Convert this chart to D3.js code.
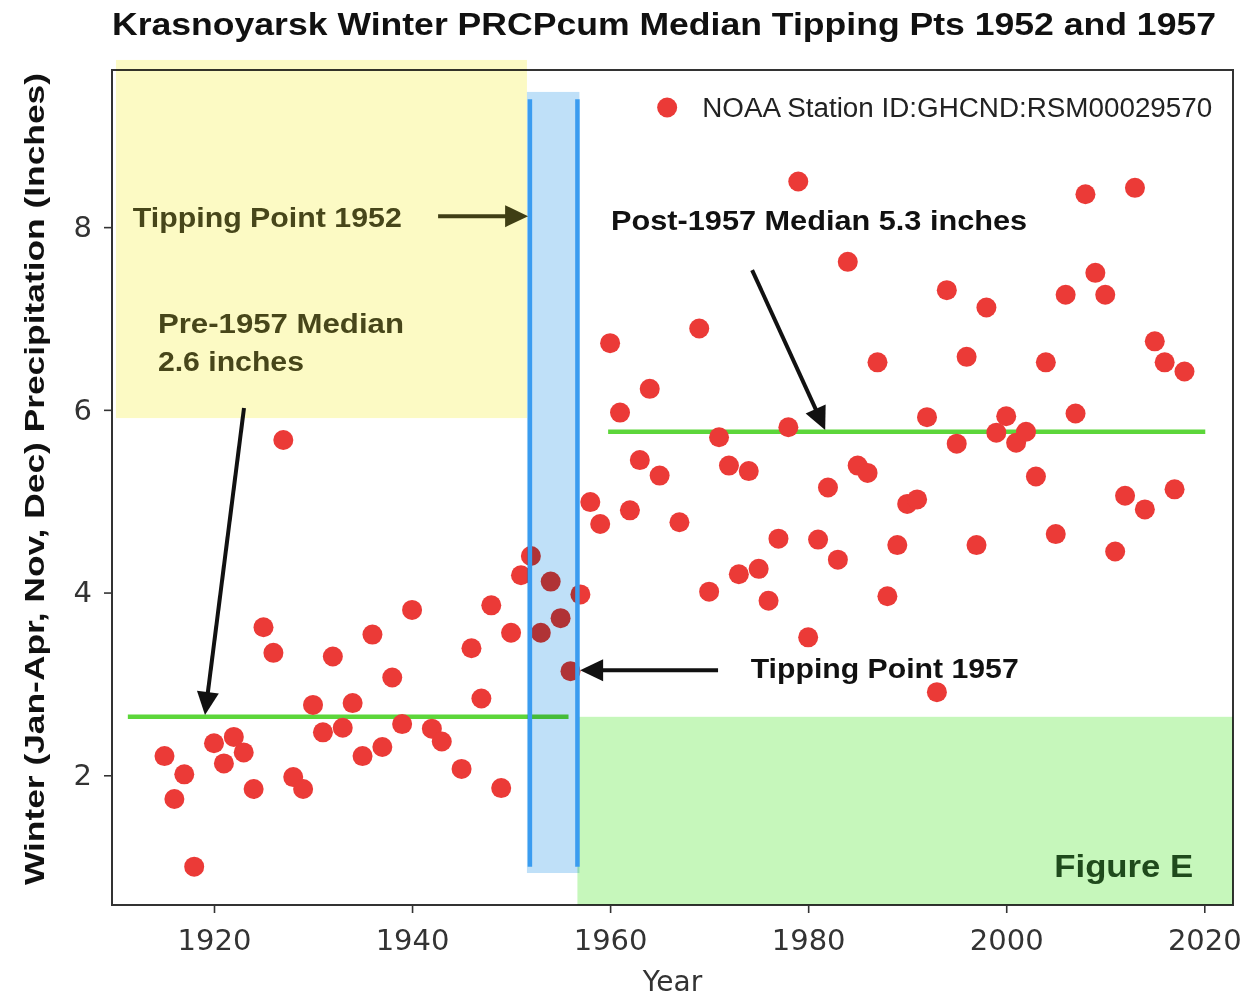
<!DOCTYPE html>
<html>
<head>
<meta charset="utf-8">
<script src="https://cdn.jsdelivr.net/npm/d3@7"></script>
<style>
  body { margin: 0; background: #fff; }
  svg { display: block; font-family: "Liberation Sans", Arial, sans-serif; }
</style>
</head>
<body>
<main></main>
<script>
/************************************************************************
 Krasnoyarsk winter precipitation, scatter with tipping point annotations
************************************************************************/
// data
const years = [1915, 1916, 1917, 1918, 1920, 1921, 1922, 1923, 1924, 1925, 1926, 1927, 1928, 1929,
  1930, 1931, 1932, 1933, 1934, 1935, 1936, 1937, 1938, 1939, 1940, 1942, 1943, 1945, 1946, 1947,
  1948, 1949, 1950, 1951, 1952, 1953, 1954, 1955, 1956, 1957, 1958, 1959, 1960, 1961, 1962, 1963,
  1964, 1965, 1967, 1969, 1970, 1971, 1972, 1973, 1974, 1975, 1976, 1977, 1978, 1979, 1980, 1981,
  1982, 1983, 1984, 1985, 1986, 1987, 1988, 1989, 1990, 1991, 1992, 1993, 1994, 1995, 1996, 1997,
  1998, 1999, 2000, 2001, 2002, 2003, 2004, 2005, 2006, 2007, 2008, 2009, 2010, 2011, 2012, 2013,
  2014, 2015, 2016, 2017, 2018];
const precip = [2.21, 1.74, 2.01, 1.00, 2.35, 2.13, 2.42, 2.25, 1.85, 3.62, 3.34, 5.67, 1.98, 1.85,
  2.77, 2.47, 3.30, 2.52, 2.79, 2.21, 3.54, 2.31, 3.07, 2.56, 3.81, 2.51, 2.37, 2.07, 3.39, 2.84,
  3.86, 1.86, 3.56, 4.19, 4.40, 3.56, 4.12, 3.72, 3.14, 3.98, 4.99, 4.75, 6.73, 5.97, 4.90, 5.45,
  6.23, 5.28, 4.77, 6.89, 4.01, 5.70, 5.39, 4.20, 5.33, 4.26, 3.91, 4.59, 5.81, 8.50, 3.51, 4.58,
  5.15, 4.36, 7.62, 5.39, 5.31, 6.52, 3.96, 4.52, 4.97, 5.02, 5.92, 2.91, 7.31, 5.63, 6.58, 4.52,
  7.12, 5.75, 5.93, 5.64, 5.76, 5.27, 6.52, 4.64, 7.26, 5.96, 8.36, 7.50, 7.26, 4.45, 5.06, 8.43,
  4.91, 6.75, 6.52, 5.13, 6.42];

// median lines as drawn: [startYear, endYear, value]
const preMedianLine = [1911.3, 1955.8, 2.64];
const postMedianLine = [1959.8, 2020.1, 5.76];

// shaded regions in data units: [x0, x1, y0, y1]
const yellowZone = [1910.1, 1951.6, 5.91, 9.83];
const blueBand = [1951.6, 1956.9, 0.93, 9.48];
const tipLines = [1951.9, 1956.7];
const tipLineSpan = [1.0, 9.4];
const greenZone = [1956.7, 2022.9, 0.58, 2.64];

const xTicks = [1920, 1940, 1960, 1980, 2000, 2020];
const yTicks = [2, 4, 6, 8];

const title = 'Krasnoyarsk Winter PRCPcum Median Tipping Pts 1952 and 1957';
const legendLabel = 'NOAA Station ID:GHCND:RSM00029570';

// constants
const width = 1254;
const height = 998;
const plotLeft = 112;
const plotRight = 1233;
const plotTop = 70;
const plotBottom = 905;
const dotColor = '#eb3a37';
const medianColor = '#5cd63a';
const olive = '#47461a';

const svg = d3.select('main')
  .append('svg')
  .attr('width', width)
  .attr('height', height);

/************************************************************************
 scales
************************************************************************/
const xScale = d3.scaleLinear()
  .domain([1909.7, 2022.9])
  .range([plotLeft, plotRight]);

const yScale = d3.scaleLinear()
  .domain([0.58, 9.72])
  .range([plotBottom, plotTop]);

/************************************************************************
 axes and frame
************************************************************************/
const xAxis = d3.axisBottom(xScale)
  .tickValues(xTicks)
  .tickFormat(d3.format('d'))
  .tickSize(8)
  .tickPadding(16);

const xAxisG = svg.append('g')
  .attr('transform', `translate(0, ${plotBottom})`)
  .call(xAxis);

const yAxis = d3.axisLeft(yScale)
  .tickValues(yTicks)
  .tickSize(8)
  .tickPadding(12);

const yAxisG = svg.append('g')
  .attr('transform', `translate(${plotLeft}, 0)`)
  .call(yAxis);

[xAxisG, yAxisG].forEach(g => {
  g.select('.domain').remove();
  g.selectAll('line').attr('stroke', '#333').attr('stroke-width', 1.6);
  g.selectAll('text')
    .attr('font-family', '"DejaVu Sans", sans-serif')
    .attr('font-size', 29)
    .attr('fill', '#333');
});

svg.append('rect')
  .attr('x', plotLeft)
  .attr('y', plotTop)
  .attr('width', plotRight - plotLeft)
  .attr('height', plotBottom - plotTop)
  .attr('fill', 'none')
  .attr('stroke', '#333')
  .attr('stroke-width', 2);

// axis names and title
svg.append('text')
  .text('Year')
  .attr('x', (plotLeft + plotRight) / 2)
  .attr('y', 991)
  .attr('text-anchor', 'middle')
  .attr('font-family', '"DejaVu Sans", sans-serif')
  .attr('font-size', 28)
  .attr('fill', '#333');

svg.append('text')
  .text('Winter (Jan-Apr, Nov, Dec) Precipitation (Inches)')
  .attr('transform', `translate(44, ${(73 + 885) / 2}) rotate(-90)`)
  .attr('text-anchor', 'middle')
  .attr('font-weight', 'bold')
  .attr('font-size', 28)
  .attr('textLength', 812)
  .attr('lengthAdjust', 'spacingAndGlyphs')
  .attr('fill', '#111');

svg.append('text')
  .text(title)
  .attr('x', 112)
  .attr('y', 35)
  .attr('font-weight', 'bold')
  .attr('font-size', 31)
  .attr('textLength', 1104)
  .attr('lengthAdjust', 'spacingAndGlyphs')
  .attr('fill', '#111');

/************************************************************************
 shaded zones (multiplied so the frame shows through)
************************************************************************/
const zone = (z, color) => svg.append('rect')
  .attr('x', xScale(z[0]))
  .attr('y', yScale(z[3]))
  .attr('width', xScale(z[1]) - xScale(z[0]))
  .attr('height', yScale(z[2]) - yScale(z[3]))
  .attr('fill', color)
  .style('mix-blend-mode', 'multiply');

zone(yellowZone, '#fcfac4');
zone(greenZone, '#c6f7bb');

/************************************************************************
 medians and points
************************************************************************/
[preMedianLine, postMedianLine].forEach(m => {
  svg.append('line')
    .attr('x1', xScale(m[0]))
    .attr('x2', xScale(m[1]))
    .attr('y1', yScale(m[2]))
    .attr('y2', yScale(m[2]))
    .attr('stroke', medianColor)
    .attr('stroke-width', 4.5);
});

svg.append('g')
  .selectAll('circle')
  .data(years.map((yr, i) => ({ year: yr, value: precip[i] })))
  .enter()
  .append('circle')
  .attr('cx', d => xScale(d.year))
  .attr('cy', d => yScale(d.value))
  .attr('r', 10)
  .attr('fill', dotColor);

// tipping band goes on top of the points
zone(blueBand, '#bfe0f8');

tipLines.forEach(yr => {
  svg.append('line')
    .attr('x1', xScale(yr))
    .attr('x2', xScale(yr))
    .attr('y1', yScale(tipLineSpan[0]))
    .attr('y2', yScale(tipLineSpan[1]))
    .attr('stroke', '#3a9cf0')
    .attr('stroke-width', 4.5);
});

/************************************************************************
 legend
************************************************************************/
svg.append('circle')
  .attr('cx', xScale(1965.76))
  .attr('cy', yScale(9.31))
  .attr('r', 10)
  .attr('fill', dotColor);

svg.append('text')
  .text(legendLabel)
  .attr('x', xScale(1969.3))
  .attr('y', yScale(9.21))
  .attr('font-size', 27)
  .attr('textLength', 510)
  .attr('lengthAdjust', 'spacingAndGlyphs')
  .attr('fill', '#222');

/************************************************************************
 annotations
************************************************************************/
const arrow = (from, to, color) => {
  const x1 = xScale(from[0]), y1 = yScale(from[1]);
  const x2 = xScale(to[0]), y2 = yScale(to[1]);
  const angle = Math.atan2(y2 - y1, x2 - x1);
  const headLength = 23;
  const headHalf = 11;
  const bx = x2 - headLength * Math.cos(angle);
  const by = y2 - headLength * Math.sin(angle);

  svg.append('line')
    .attr('x1', x1).attr('y1', y1)
    .attr('x2', bx + 2 * Math.cos(angle)).attr('y2', by + 2 * Math.sin(angle))
    .attr('stroke', color)
    .attr('stroke-width', 4);

  const nx = -Math.sin(angle), ny = Math.cos(angle);
  svg.append('path')
    .attr('d', `M${x2},${y2}L${bx + nx * headHalf},${by + ny * headHalf}L${bx - nx * headHalf},${by - ny * headHalf}Z`)
    .attr('fill', color);
};

arrow([1923.03, 6.02], [1919.09, 2.66], '#111');
arrow([1974.34, 7.53], [1981.72, 5.78], '#111');
arrow([1942.63, 8.12], [1951.72, 8.12], '#3f3e14');
arrow([1970.9, 3.15], [1956.97, 3.15], '#111');

const note = (label, pos, color, size, len) => svg.append('text')
  .text(label)
  .attr('x', xScale(pos[0]))
  .attr('y', yScale(pos[1]))
  .attr('font-weight', 'bold')
  .attr('font-size', size)
  .attr('textLength', len)
  .attr('lengthAdjust', 'spacingAndGlyphs')
  .attr('fill', color);

note('Tipping Point 1952', [1911.8, 8.0], olive, 28, 269);
note('Pre-1957 Median', [1914.34, 6.84], olive, 28, 246);
note('2.6 inches', [1914.34, 6.43], olive, 28, 146);
note('Post-1957 Median 5.3 inches', [1960.1, 7.97], '#111', 28, 416);
note('Tipping Point 1957', [1974.2, 3.07], '#111', 28, 268);
note('Figure E', [2004.85, 0.89], '#1f4a1c', 32, 139);
</script>
</body>
</html>
